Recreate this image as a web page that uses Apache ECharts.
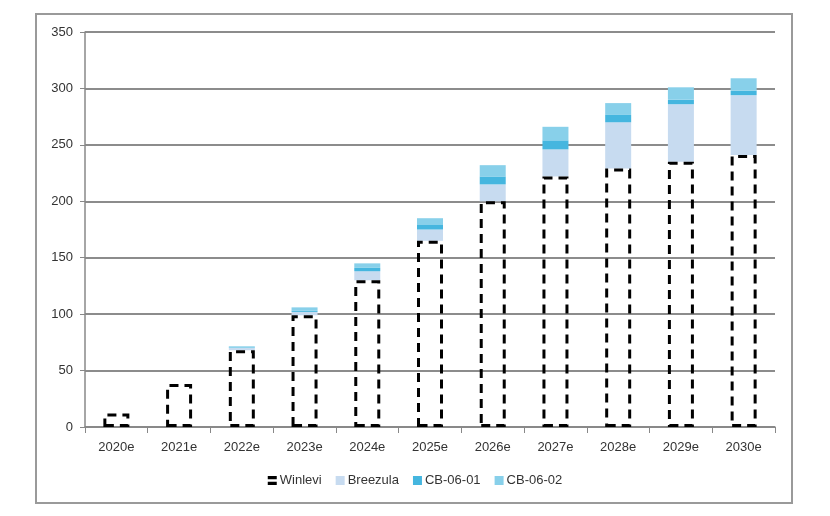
<!DOCTYPE html>
<html>
<head>
<meta charset="utf-8">
<script src="https://cdn.jsdelivr.net/npm/echarts@6/dist/echarts.min.js"></script>
<style>
  html, body { margin: 0; padding: 0; background: #fff; }
  #main { width: 830px; height: 516px; }
</style>
</head>
<body>
<div id="main"></div>
<script>
const years = ['2020e', '2021e', '2022e', '2023e', '2024e', '2025e', '2026e', '2027e', '2028e', '2029e', '2030e'];
const winlevi = [12, 38, 68, 99, 130, 165, 200, 222, 229, 235, 241];
const breezula = [0, 0, 2, 3, 8, 10, 15, 24, 41, 51, 53];
const cb0601 = [0, 0, 0.5, 1, 3, 4, 7, 8, 6.5, 4, 4];
const cb0602 = [0, 0, 1, 3, 4, 6, 10, 12, 10.5, 11, 11];

const chart = echarts.init(document.getElementById('main'));
const font = 'Liberation Sans, Arial, sans-serif';

chart.setOption({
    animation: false,
    textStyle: { fontFamily: font },
    graphic: [{
        type: 'rect',
        shape: { x: 36, y: 14, width: 756, height: 489 },
        style: { fill: 'none', stroke: '#9a9a9a', lineWidth: 2 },
        silent: true
    }],
    grid: { left: 85, right: 55, top: 32, bottom: 89 },
    legend: {
        bottom: 24,
        left: 'center',
        itemWidth: 9,
        itemHeight: 9,
        itemGap: 14,
        textStyle: { fontSize: 13, color: '#333', padding: [0, 0, 0, -2] },
        data: [
            { name: 'Winlevi', icon: 'path://M0,0H10V3.5H0Z M0,6.5H10V10H0Z', itemStyle: { color: '#000', borderWidth: 0 } },
            { name: 'Breezula', icon: 'rect' },
            { name: 'CB-06-01', icon: 'rect' },
            { name: 'CB-06-02', icon: 'rect' }
        ]
    },
    xAxis: {
        type: 'category',
        data: years,
        axisLine: { lineStyle: { color: '#888', width: 1.5 } },
        axisTick: { show: true, length: 6, lineStyle: { color: '#888' } },
        axisLabel: { fontSize: 13, color: '#333', margin: 14 }
    },
    yAxis: {
        type: 'value',
        min: 0,
        max: 350,
        interval: 50,
        axisLine: { show: true, lineStyle: { color: '#888', width: 1.5 } },
        axisTick: { show: true, length: 5, lineStyle: { color: '#888' } },
        axisLabel: { fontSize: 13, color: '#333', margin: 12 },
        splitLine: { lineStyle: { color: '#8c8c8c', width: 2 } }
    },
    series: [
        {
            name: 'Winlevi', type: 'bar', stack: 'total', data: winlevi,
            barWidth: 26,
            itemStyle: {
                color: 'rgba(255,255,255,0)',
                borderColor: '#000',
                borderWidth: 3,
                borderType: [9, 6]
            },
            z: 3
        },
        { name: 'Breezula', type: 'bar', stack: 'total', data: breezula, itemStyle: { color: '#c7dbf0' } },
        { name: 'CB-06-01', type: 'bar', stack: 'total', data: cb0601, itemStyle: { color: '#45b6df' } },
        { name: 'CB-06-02', type: 'bar', stack: 'total', data: cb0602, itemStyle: { color: '#88d0ea' } }
    ]
});
</script>
</body>
</html>
